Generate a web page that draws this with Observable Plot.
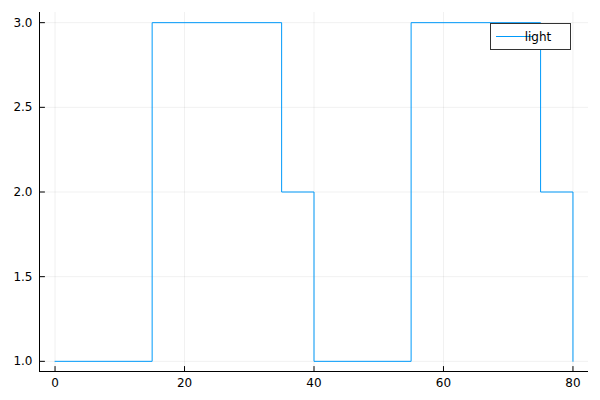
<!DOCTYPE html>
<html>
<head>
<meta charset="utf-8">
<script src="https://cdn.jsdelivr.net/npm/d3@7"></script>
<script src="https://cdn.jsdelivr.net/npm/@observablehq/plot@0.6"></script>
<style>
  html, body { margin: 0; padding: 0; background: #fff; }
  #chart { position: relative; width: 600px; height: 400px; }
</style>
</head>
<body>
<div id="chart"></div>
<script>
const times = [0, 15, 35, 40, 55, 75, 80];
const values = [1, 3, 2, 1, 3, 2, 1];
const xTicks = [0, 20, 40, 60, 80];
const yTicks = [1.0, 1.5, 2.0, 2.5, 3.0];
const seriesName = "light";

const data = times.map((t, i) => ({t, v: values[i]}));
const xDomain = [-2.4, 82.4];
const yDomain = [0.94, 3.06];
const font = "DejaVu Sans, sans-serif";
const lineColor = "#009AFA";
const tickShape = {draw(context, l) { context.moveTo(0, 0); context.lineTo(0, -l); }};

const plot = Plot.plot({
  width: 600,
  height: 400,
  marginLeft: 39,
  marginRight: 12,
  marginTop: 12,
  marginBottom: 29,
  style: {fontFamily: font, fontSize: "12px", background: "white", color: "#000"},
  x: {domain: xDomain},
  y: {domain: yDomain},
  marks: [
    Plot.gridX(xTicks, {stroke: "#000", strokeOpacity: 0.1, strokeWidth: 0.6}),
    Plot.gridY(yTicks, {stroke: "#000", strokeOpacity: 0.1, strokeWidth: 0.6}),
    Plot.line(data, {x: "t", y: "v", curve: "step-after", stroke: lineColor, strokeWidth: 1}),
    Plot.axisX({ticks: xTicks, tickSize: 0, tickPadding: 7, tickFormat: d3.format("d"), label: null, fill: "#000"}),
    Plot.axisY({ticks: yTicks, tickSize: 0, tickPadding: 7, tickFormat: d3.format(".1f"), label: null, fill: "#000"}),
    Plot.ruleX([xDomain[0]], {stroke: "#000", strokeWidth: 1}),
    Plot.ruleY([yDomain[0]], {stroke: "#000", strokeWidth: 1}),
    Plot.vector(xTicks, {x: d => d, frameAnchor: "bottom", length: 5, rotate: 0, anchor: "start", shape: tickShape, stroke: "#000", strokeWidth: 1}),
    Plot.vector(yTicks, {y: d => d, frameAnchor: "left", length: 5, rotate: 90, anchor: "start", shape: tickShape, stroke: "#000", strokeWidth: 1})
  ]
});
document.getElementById("chart").appendChild(plot);

// legend inside the plot area
const svg = d3.select(plot);
const lg = svg.append("g").attr("class", "legend");
lg.append("rect").attr("x", 490.5).attr("y", 23.5).attr("width", 80).attr("height", 26)
  .attr("fill", "white").attr("stroke", "#333").attr("stroke-width", 1);
lg.append("line").attr("x1", 496).attr("x2", 533).attr("y1", 36.5).attr("y2", 36.5)
  .attr("stroke", lineColor).attr("stroke-width", 1);
lg.append("text").attr("x", 538).attr("y", 41).attr("font-family", font).attr("font-size", 12)
  .attr("fill", "#000").text(seriesName);
</script>
</body>
</html>
